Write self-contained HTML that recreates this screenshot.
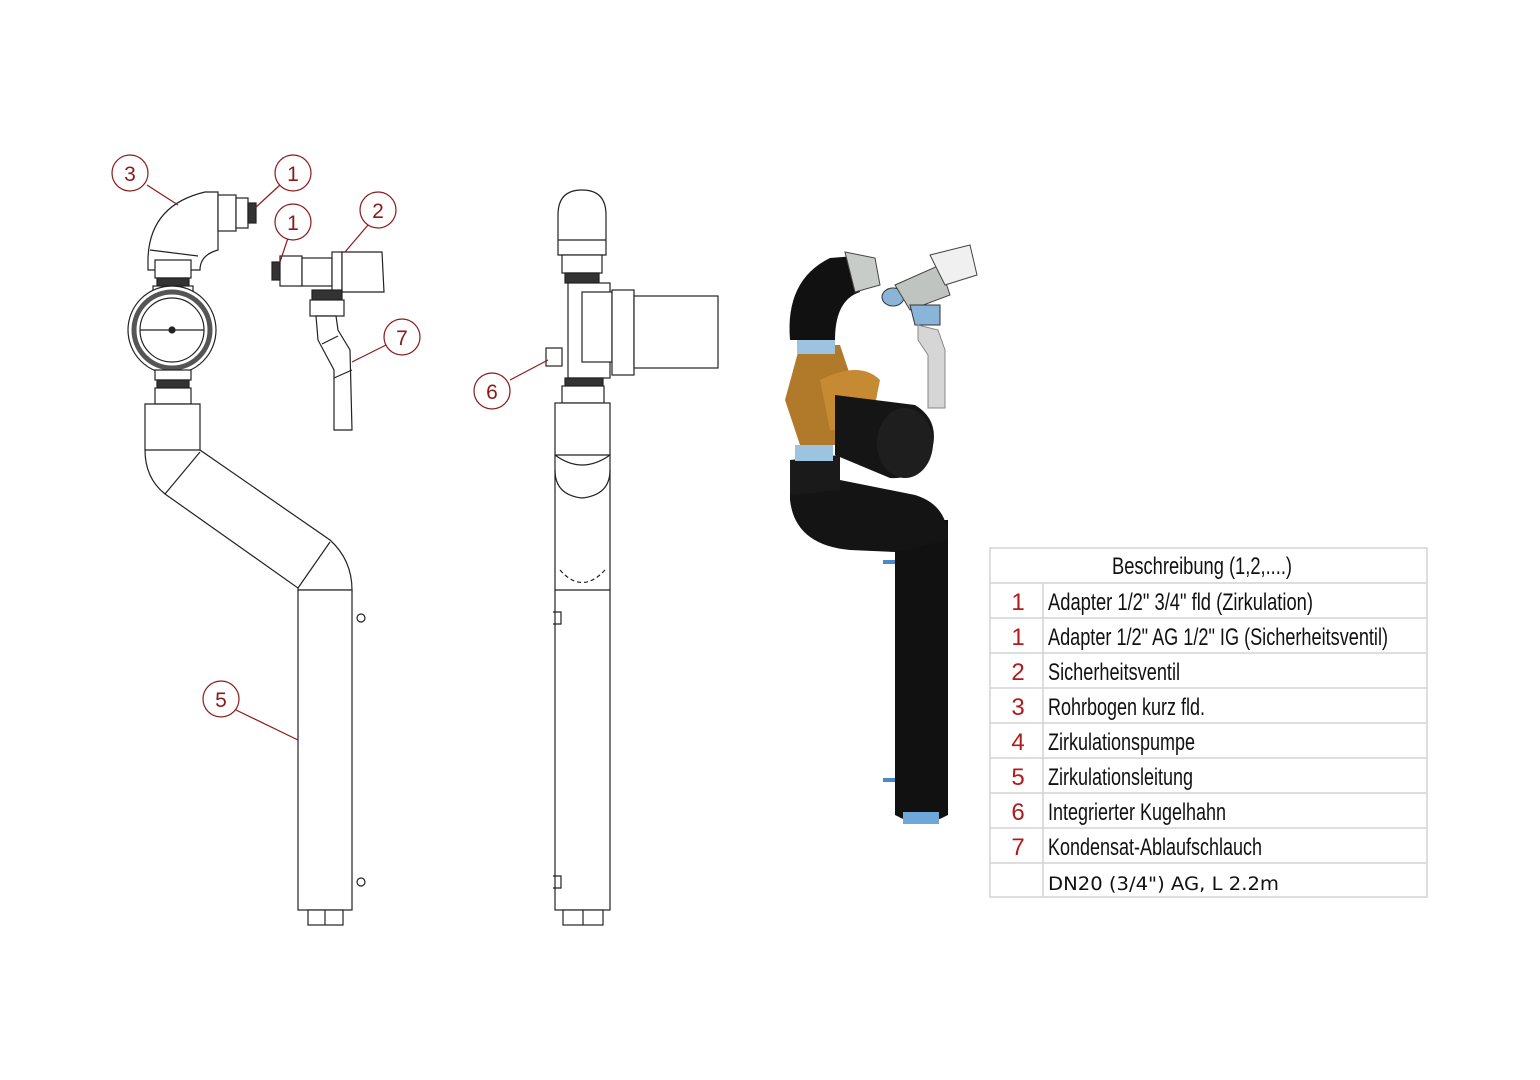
<!DOCTYPE html>
<html><head><meta charset="utf-8"><style>
html,body{margin:0;padding:0;background:#fff;}
svg{display:block}
.n{font-family:"Liberation Sans Narrow","Liberation Sans",sans-serif;}
</style></head><body>
<svg width="1540" height="1080" viewBox="0 0 1540 1080" xmlns="http://www.w3.org/2000/svg">
<rect width="1540" height="1080" fill="#fff"/>
<g fill="#fff" stroke="#222" stroke-width="1.2">
<!-- LEFT DRAWING -->
<!-- elbow -->
<path d="M148,258 Q150,205 205,192 L218,192 L218,250 Q200,255 200,270 L148,270 Z"/>
<line x1="150" y1="250" x2="198" y2="256"/>
<rect x="218" y="195" width="18" height="36"/><rect x="236" y="198" width="12" height="30"/>
<rect x="248" y="203" width="8" height="20" fill="#333"/>
<rect x="155" y="260" width="36" height="18"/><rect x="157" y="278" width="32" height="8" fill="#333"/>
<rect x="153" y="286" width="40" height="10"/>
<circle cx="172" cy="330" r="44"/><circle cx="172" cy="330" r="38" stroke-width="5" stroke="#555"/>
<circle cx="172" cy="330" r="32"/>
<line x1="140" y1="330" x2="204" y2="330"/><circle cx="172" cy="330" r="3" fill="#222"/>
<rect x="155" y="370" width="36" height="10"/><rect x="157" y="380" width="32" height="8" fill="#333"/>
<rect x="155" y="388" width="36" height="16"/>
<!-- pipe -->
<path d="M145,404 L200,404 L200,450 L330,540 Q352,560 352,590 L298,590 L298,588 L165,494 Q145,478 145,450 Z"/>
<line x1="145" y1="450" x2="200" y2="450"/>
<line x1="165" y1="494" x2="200" y2="452"/>
<line x1="298" y1="588" x2="330" y2="542"/>
<rect x="298" y="590" width="54" height="320"/>
<rect x="308" y="910" width="35" height="15"/><line x1="325" y1="910" x2="325" y2="925"/>
<circle cx="361" cy="618" r="4"/><circle cx="361" cy="882" r="4"/>
<!-- valve group -->
<rect x="272" y="262" width="8" height="18" fill="#333"/>
<rect x="280" y="256" width="22" height="30"/><rect x="302" y="258" width="30" height="28"/>
<rect x="332" y="252" width="10" height="40"/><path d="M342,252 L382,252 L384,292 L342,292 Z"/>
<rect x="312" y="290" width="30" height="10" fill="#333"/><rect x="310" y="300" width="34" height="16"/>
<path d="M316,316 L336,316 L338,330 L350,350 L352,430 L334,430 L334,370 L318,340 Z"/>
<line x1="322" y1="344" x2="338" y2="336"/><line x1="334" y1="378" x2="352" y2="370"/>
<!-- MIDDLE DRAWING -->
<path d="M558,255 L558,215 Q558,190 582,190 Q606,190 606,215 L606,255 Z"/>
<line x1="558" y1="240" x2="606" y2="240"/>
<rect x="562" y="255" width="40" height="18"/><rect x="565" y="273" width="34" height="10" fill="#333"/>
<rect x="568" y="283" width="42" height="95"/>
<rect x="582" y="292" width="30" height="70"/>
<rect x="612" y="290" width="22" height="85"/>
<rect x="634" y="296" width="84" height="72"/>
<rect x="546" y="348" width="16" height="18"/>
<rect x="565" y="378" width="38" height="8" fill="#333"/><rect x="562" y="386" width="42" height="17"/>
<rect x="555" y="403" width="55" height="507"/>
<path d="M555,455 Q582,475 610,455"/><line x1="555" y1="455" x2="610" y2="455"/>
<path d="M555,470 Q555,495 582,498 Q610,495 610,470" fill="none"/>
<path d="M560,570 Q582,595 605,570" fill="none" stroke-dasharray="4 3"/>
<line x1="555" y1="590" x2="610" y2="590"/>
<rect x="563" y="910" width="40" height="15"/><line x1="583" y1="910" x2="583" y2="925"/>
<path d="M553,612 h8 v12 h-8 M553,876 h8 v12 h-8" fill="none"/>
</g>
<!-- callouts -->
<g stroke="#8b1a1a" stroke-width="1.2" fill="#fff">
<line x1="147" y1="185" x2="178" y2="205"/><line x1="280" y1="185" x2="255" y2="208"/>
<line x1="288" y1="238" x2="280" y2="262"/><line x1="368" y1="225" x2="345" y2="252"/>
<line x1="386" y1="345" x2="352" y2="362"/><line x1="510" y1="380" x2="548" y2="360"/>
<line x1="236" y1="710" x2="298" y2="740"/>
<circle cx="130" cy="173" r="18"/><circle cx="293" cy="173" r="18"/><circle cx="293" cy="222" r="18"/>
<circle cx="378" cy="210" r="18"/><circle cx="402" cy="337" r="18"/><circle cx="492" cy="391" r="18"/>
<circle cx="221" cy="699" r="18"/>
</g>
<g font-family="Liberation Sans,sans-serif" font-size="21" fill="#8b1a1a" text-anchor="middle">
<text x="130" y="181">3</text><text x="293" y="181">1</text><text x="293" y="230">1</text>
<text x="378" y="218">2</text><text x="402" y="345">7</text><text x="492" y="399">6</text><text x="221" y="707">5</text>
</g>
<!-- 3D RENDER -->
<g>
<path d="M895,520 L948,520 L948,815 Q921,830 895,815 Z" fill="#111"/>
<path d="M790,470 L790,500 Q795,545 850,550 L895,552 L948,540 Q948,505 915,495 L840,480 L840,455 Z" fill="#141414"/>
<path d="M790,460 L840,455 L840,490 L790,495 Z" fill="#1a1a1a"/>
<rect x="903" y="812" width="36" height="12" fill="#6ea8d8"/>
<path d="M883,562 h12 M883,780 h12" stroke="#4a8ac8" stroke-width="4"/>
<rect x="795" y="445" width="38" height="16" fill="#9cc4e0"/>
<path d="M800,345 L785,400 L800,445 L835,445 L850,375 L840,345 Z" fill="#b07a2a"/>
<path d="M820,380 Q860,360 880,380 L870,430 L830,430 Z" fill="#c58a32"/>
<path d="M835,395 L915,405 Q940,420 932,450 Q920,480 890,478 L835,455 Z" fill="#151515"/>
<ellipse cx="905" cy="443" rx="28" ry="35" fill="#1e1e1e"/>
<rect x="797" y="340" width="38" height="14" fill="#9cc4e0"/>
<path d="M790,340 Q785,280 830,258 L855,256 L860,292 Q835,300 835,340 Z" fill="#111"/>
<path d="M845,252 L875,258 L880,285 L855,292 Z" fill="#c8ccc8" stroke="#444"/>
<ellipse cx="893" cy="297" rx="11" ry="9" fill="#8ab4d8" stroke="#333"/>
<path d="M895,285 L940,265 L950,295 L910,310 Z" fill="#c0c4c0" stroke="#444"/>
<path d="M930,255 L970,245 L977,275 L945,285 Z" fill="#f0f0f0" stroke="#444"/>
<path d="M910,305 L940,305 L940,325 L915,325 Z" fill="#8ab4d8" stroke="#333"/>
<path d="M918,325 L938,330 L945,350 L945,408 L928,408 L928,355 L918,340 Z" fill="#d6d6d6" stroke="#888"/>
</g>
<!-- TABLE -->
<g stroke="#d4d4d4" stroke-width="1.5" fill="none">
<rect x="990" y="548" width="437" height="349"/>
<line x1="1043" y1="583" x2="1043" y2="897"/>
<line x1="990" y1="583" x2="1427" y2="583"/><line x1="990" y1="618" x2="1427" y2="618"/>
<line x1="990" y1="653" x2="1427" y2="653"/><line x1="990" y1="688" x2="1427" y2="688"/>
<line x1="990" y1="723" x2="1427" y2="723"/><line x1="990" y1="758" x2="1427" y2="758"/>
<line x1="990" y1="793" x2="1427" y2="793"/><line x1="990" y1="828" x2="1427" y2="828"/>
<line x1="990" y1="863" x2="1427" y2="863"/>
</g>
<g class="n" font-size="24" fill="#111">
<text x="1112" y="574" textLength="180" lengthAdjust="spacingAndGlyphs">Beschreibung (1,2,....)</text>
<text x="1048" y="610" textLength="265" lengthAdjust="spacingAndGlyphs">Adapter 1/2"  3/4" fld (Zirkulation)</text>
<text x="1048" y="645" textLength="340" lengthAdjust="spacingAndGlyphs">Adapter 1/2" AG 1/2" IG (Sicherheitsventil)</text>
<text x="1048" y="680" textLength="132" lengthAdjust="spacingAndGlyphs">Sicherheitsventil</text>
<text x="1048" y="715" textLength="157" lengthAdjust="spacingAndGlyphs">Rohrbogen kurz fld.</text>
<text x="1048" y="750" textLength="147" lengthAdjust="spacingAndGlyphs">Zirkulationspumpe</text>
<text x="1048" y="785" textLength="145" lengthAdjust="spacingAndGlyphs">Zirkulationsleitung</text>
<text x="1048" y="820" textLength="178" lengthAdjust="spacingAndGlyphs">Integrierter Kugelhahn</text>
<text x="1048" y="855" textLength="214" lengthAdjust="spacingAndGlyphs">Kondensat-Ablaufschlauch</text>
</g>
<text x="1048" y="890" font-family="DejaVu Sans,sans-serif" font-size="19" fill="#111" textLength="231" lengthAdjust="spacingAndGlyphs">DN20 (3/4") AG, L 2.2m</text>
<g font-family="Liberation Sans,sans-serif" font-size="24" fill="#b01c1c" text-anchor="middle">
<text x="1018" y="610">1</text><text x="1018" y="645">1</text><text x="1018" y="680">2</text>
<text x="1018" y="715">3</text><text x="1018" y="750">4</text><text x="1018" y="785">5</text>
<text x="1018" y="820">6</text><text x="1018" y="855">7</text>
</g>
</svg>
</body></html>
